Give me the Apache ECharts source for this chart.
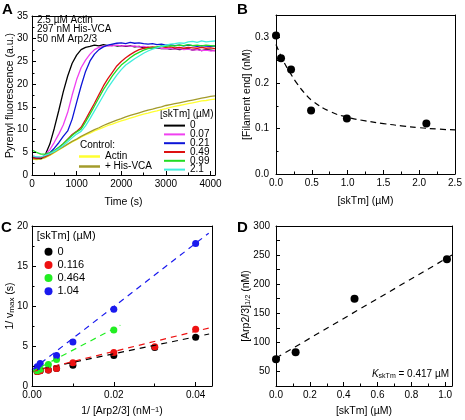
<!DOCTYPE html>
<html><head><meta charset="utf-8">
<script src="https://cdn.jsdelivr.net/npm/echarts@6/dist/echarts.min.js"></script>
<style>html,body{margin:0;padding:0;background:#fff}#c{width:465px;height:420px}</style>
</head><body><div id="c"></div>
<script>
// ---------- Panel A: time courses ----------
const timeA = [0,100,200,300,400,500,600,700,800,900,1000,1100,1200,1300,1400,1500,1600,1700,1800,1900,2000,2100,2200,2300,2400,2500,2600,2700,2800,2900,3000,3100,3200,3300,3400,3500,3600,3700,3800,3900,4000,4100];
const fl_0 = [4.0,3.7,3.6,4.5,6.8,10.3,14.2,18.3,21.8,24.6,26.4,27.6,28.1,28.3,28.6,28.4,28.7,28.5,28.6,28.4,28.5,28.3,28.4,28.2,28.3,28.0,28.1,27.9,28.0,27.8,27.9,27.7,27.8,27.6,27.7,27.8,27.5,27.7,27.4,27.6,27.5,27.4];
const fl_007 = [4.2,4.0,3.9,4.4,5.6,7.2,9.0,11.0,13.8,17.6,21.0,23.6,25.3,26.6,27.6,28.1,28.3,28.5,28.4,28.6,28.4,28.5,28.3,28.4,28.2,28.3,28.1,28.0,28.1,27.9,27.8,27.9,27.7,27.8,27.6,27.7,27.5,27.6,27.4,27.5,27.3,27.4];
const fl_021 = [4.0,3.8,3.8,4.2,4.9,5.9,7.1,8.5,9.7,12.3,16.0,19.6,22.8,25.1,26.6,27.6,28.2,28.6,28.8,29.0,29.1,28.9,29.2,29.0,29.1,28.9,28.8,28.9,28.7,28.8,28.6,28.7,28.5,28.6,28.4,28.6,28.5,28.3,28.5,28.4,28.3,28.4];
const fl_049 = [3.8,3.7,3.8,4.1,4.6,5.3,6.0,6.9,7.9,8.9,9.6,10.5,12.2,14.0,15.8,17.7,19.6,21.2,22.6,24.0,25.0,25.8,26.5,27.1,27.6,27.9,28.1,28.2,28.1,28.3,28.1,28.2,28.0,28.1,27.9,28.1,28.0,27.9,28.1,27.9,28.0,27.8];
const fl_099 = [5.5,5.0,4.6,4.6,4.9,5.4,6.1,6.9,7.8,8.7,9.5,10.1,11.7,13.4,15.2,17.0,18.8,20.3,21.8,23.1,24.2,25.0,25.8,26.5,27.0,27.5,27.8,28.0,28.2,28.4,28.3,28.5,28.4,28.6,28.5,28.7,28.5,28.6,28.4,28.6,28.5,28.4];
const fl_21 = [4.2,4.0,4.0,4.3,4.7,5.2,5.8,6.5,7.3,8.2,9.0,9.6,10.8,12.4,14.1,15.8,17.5,19.2,20.6,22.0,23.2,24.2,24.9,25.6,26.2,26.8,27.3,27.7,28.0,28.3,28.6,28.8,28.9,29.1,29.0,29.3,29.4,29.2,29.5,29.3,29.4,29.5];
const fl_actin = [3.5,3.4,3.5,3.8,4.3,4.9,5.5,6.1,6.7,7.3,7.8,8.3,8.8,9.2,9.7,10.1,10.5,10.9,11.2,11.6,11.9,12.2,12.5,12.8,13.1,13.4,13.6,13.9,14.1,14.4,14.6,14.9,15.1,15.3,15.5,15.7,15.9,16.1,16.3,16.4,16.6,16.7];
const fl_vca = [3.6,3.5,3.6,3.9,4.4,5.0,5.6,6.2,6.8,7.4,7.9,8.5,9.0,9.5,10.0,10.4,10.9,11.3,11.7,12.1,12.4,12.8,13.1,13.4,13.7,14.0,14.3,14.5,14.8,15.0,15.3,15.5,15.7,15.9,16.1,16.3,16.5,16.7,16.9,17.1,17.3,17.4];
const legendA = ['0','0.07','0.21','0.49','0.99','2.1'];
const controlA = ['Actin','+ His-VCA'];

// ---------- Panel B ----------
const skTmB = [0,0.07,0.21,0.49,0.99,2.1];
const endsB = [0.305,0.255,0.23,0.14,0.122,0.111];
const fitBx = [0,0.1,0.2,0.3,0.4,0.5,0.75,1.0,1.25,1.5,1.75,2.0,2.25,2.5];
const fitBy = [0.285,0.25,0.222,0.198,0.178,0.162,0.138,0.125,0.117,0.111,0.106,0.102,0.099,0.097];

// ---------- Panel C ----------
const legendC = ['0','0.116','0.464','1.04'];
const invArp_0 = [0.00125,0.002,0.004,0.006,0.01,0.02,0.03,0.04];
const invV_0 = [1.8,1.9,2.0,2.2,2.6,3.8,4.8,6.1];
const invArp_0116 = [0.00125,0.002,0.004,0.006,0.01,0.02,0.03,0.04];
const invV_0116 = [1.8,1.9,2.0,2.2,2.9,4.2,4.9,7.1];
const invArp_0464 = [0.00125,0.002,0.004,0.006,0.02];
const invV_0464 = [1.9,2.1,2.7,3.3,7.0];
const invArp_104 = [0.00125,0.002,0.006,0.01,0.02,0.04];
const invV_104 = [2.4,2.8,3.8,5.5,9.6,17.8];
const fitC_0 = [[0,1.9],[0.0433,6.5]];
const fitC_0116 = [[0,1.8],[0.0433,7.25]];
const fitC_0464 = [[0,1.8],[0.0216,7.6]];
const fitC_104 = [[0,2.0],[0.0432,19.1]];

// ---------- Panel D ----------
const skTmD = [0,0.116,0.464,1.01];
const halfD = [71,83,175,243];
const fitD = [[0,73],[1.04,250]];

const FONT = 'Liberation Sans, Arial, Helvetica, sans-serif';
const cA = ['#000000','#f040f0','#0c14d8','#dd1111','#22dd22','#40eedd'];
const cCtrl = ['#ffff30','#a39b2b'];
const cC = ['#000000','#ee1111','#22ee22','#1a1aee'];

function zip(xs, ys){ return xs.map((x,i)=>[x, ys[i]]); }

function ax(extra){
  const base = {
    axisLine:{show:true,onZero:false,lineStyle:{color:'#000',width:1}},
    axisTick:{show:true,inside:true,length:4,lineStyle:{color:'#000',width:1}},
    minorTick:{show:true,splitNumber:2,length:2.5,lineStyle:{color:'#000',width:1}},
    splitLine:{show:false}, minorSplitLine:{show:false},
    axisLabel:{color:'#000',fontSize:10,fontFamily:FONT,margin:4,formatter:v=>String(v)},
    nameLocation:'middle', nameMoveOverlap:false, z:5,
    nameTextStyle:{color:'#000',fontSize:10.5,fontFamily:FONT}
  };
  const o = Object.assign({}, base, extra);
  if (extra.axisLabel) o.axisLabel = Object.assign({}, base.axisLabel, extra.axisLabel);
  if (extra.nameTextStyle) o.nameTextStyle = Object.assign({}, base.nameTextStyle, extra.nameTextStyle);
  if (extra.minorTick) o.minorTick = Object.assign({}, base.minorTick, extra.minorTick);
  if (extra.axisTick) o.axisTick = Object.assign({}, base.axisTick, extra.axisTick);
  return o;
}
// frame axes (top / right edges of each box)
function frame(gridIndex, position){
  return {gridIndex:gridIndex,type:'value',position:position,min:0,max:1,
    axisLine:{show:true,onZero:false,lineStyle:{color:'#000',width:1}},
    axisTick:{show:false},axisLabel:{show:false},splitLine:{show:false},silent:true};
}

const gridStyle = {show:false,outerBoundsMode:'none',containLabel:false};

const series = [];
// Panel A
const aData = [['Actin',fl_actin,cCtrl[0]],['+ His-VCA',fl_vca,cCtrl[1]],
  ['0',fl_0,cA[0]],['0.07',fl_007,cA[1]],['0.21',fl_021,cA[2]],['0.49',fl_049,cA[3]],['0.99',fl_099,cA[4]],['2.1',fl_21,cA[5]]];
aData.forEach(([n,arr,col])=>{
  series.push({type:'line',name:'A:'+n,xAxisIndex:0,yAxisIndex:0,data:zip(timeA,arr),symbol:'none',
    lineStyle:{color:col,width:1.3},itemStyle:{color:col},silent:true,animation:false});
});
// Panel B
series.push({type:'line',name:'B:fit',xAxisIndex:1,yAxisIndex:1,data:zip(fitBx,fitBy),symbol:'none',smooth:true,
  lineStyle:{color:'#000',width:1.2,type:[6,4]},animation:false});
series.push({type:'scatter',name:'B:data',xAxisIndex:1,yAxisIndex:1,data:zip(skTmB,endsB),symbol:'circle',symbolSize:8,
  itemStyle:{color:'#000',opacity:1},animation:false});
// Panel C
const cFits=[fitC_0,fitC_0116,fitC_0464,fitC_104];
const cX=[invArp_0,invArp_0116,invArp_0464,invArp_104];
const cY=[invV_0,invV_0116,invV_0464,invV_104];
legendC.forEach((n,i)=>{
  series.push({type:'line',name:'Cfit:'+n,xAxisIndex:2,yAxisIndex:2,data:cFits[i],symbol:'none',
    lineStyle:{color:cC[i],width:1.2,type:[6,5]},animation:false});
});
legendC.forEach((n,i)=>{
  series.push({type:'scatter',name:'C:'+n,xAxisIndex:2,yAxisIndex:2,data:zip(cX[i],cY[i]),symbol:'circle',symbolSize:7,
    itemStyle:{color:cC[i],opacity:1},animation:false});
});
// Panel D
series.push({type:'line',name:'D:fit',xAxisIndex:3,yAxisIndex:3,data:fitD,symbol:'none',
  lineStyle:{color:'#000',width:1.2,type:[6,5]},animation:false});
series.push({type:'scatter',name:'D:data',xAxisIndex:3,yAxisIndex:3,data:zip(skTmD,halfD),symbol:'circle',symbolSize:8,
  itemStyle:{color:'#000',opacity:1},animation:false});

const strip = n => n.slice(n.indexOf(':')+1);

const option = {
  animation:false,
  textStyle:{fontFamily:FONT,color:'#000'},
  grid:[
    Object.assign({left:32,top:16,width:183,height:159},gridStyle),
    Object.assign({left:276,top:15,width:179,height:159},gridStyle),
    Object.assign({left:32,top:226,width:180,height:160},gridStyle),
    Object.assign({left:276,top:226,width:176,height:160},gridStyle)
  ],
  xAxis:[
    ax({gridIndex:0,type:'value',position:'bottom',min:0,max:4100,interval:1000,name:'Time (s)',nameGap:22,axisLabel:{showMaxLabel:false}}),
    ax({gridIndex:1,type:'value',position:'bottom',min:0,max:2.5,interval:0.5,name:'[skTm] (\u00b5M)',nameGap:22,axisLabel:{formatter:v=>v.toFixed(1)}}),
    ax({gridIndex:2,type:'value',position:'bottom',min:0,max:0.044,interval:0.02,name:'1/ [Arp2/3] (nM{sup|\u22121})',nameGap:20,
      axisLabel:{formatter:v=>v.toFixed(2),showMaxLabel:false},
      nameTextStyle:{rich:{sup:{fontSize:7.5,verticalAlign:'top',fontFamily:FONT,color:'#000'}}}}),
    ax({gridIndex:3,type:'value',position:'bottom',min:0,max:1.04,interval:0.2,name:'[skTm] (\u00b5M)',nameGap:20,
      axisLabel:{formatter:v=>v.toFixed(1),showMaxLabel:false}}),
    frame(0,'top'),frame(1,'top'),frame(2,'top'),frame(3,'top')
  ],
  yAxis:[
    ax({gridIndex:0,type:'value',position:'left',min:0,max:35,interval:5,name:'Pyrenyl fluorescence (a.u.)',nameGap:16}),
    ax({gridIndex:1,type:'value',position:'left',min:0,max:0.35,interval:0.1,name:'[Filament end] (nM)',nameGap:23,
      axisLabel:{formatter:v=>v.toFixed(1),showMaxLabel:false,margin:7}}),
    ax({gridIndex:2,type:'value',position:'left',min:0,max:20,interval:5,name:'1/ v{sub|max} (s)',nameGap:16,
      nameTextStyle:{rich:{sub:{fontSize:8,verticalAlign:'bottom',fontFamily:FONT,color:'#000'}}}}),
    ax({gridIndex:3,type:'value',position:'left',min:25,max:300,interval:25,name:'[Arp2/3]{sub|1/2} (nM)',nameGap:24,
      minorTick:{show:false},
      axisLabel:{formatter:v=>(v%50===0?String(v):''),margin:6},
      nameTextStyle:{rich:{sub:{fontSize:7.5,verticalAlign:'bottom',fontFamily:FONT,color:'#000'}}}}),
    frame(0,'right'),frame(1,'right'),frame(2,'right'),frame(3,'right')
  ],
  legend:[
    {data:legendA.map(n=>'A:'+n),orient:'vertical',left:164,top:120.6,itemWidth:21,itemHeight:2,itemGap:-1.2,
     icon:'rect',formatter:strip,textStyle:{fontSize:10,lineHeight:9.8,fontFamily:FONT,color:'#000'},
     selectedMode:false,padding:0},
    {data:controlA.map(n=>'A:'+n),orient:'vertical',left:79,top:151.5,itemWidth:21,itemHeight:2.5,itemGap:0,
     icon:'rect',formatter:strip,textStyle:{fontSize:10,lineHeight:10,fontFamily:FONT,color:'#000'},
     selectedMode:false,padding:0},
    {data:legendC.map(n=>'C:'+n),orient:'vertical',left:44.5,top:246.2,itemWidth:8,itemHeight:8,itemGap:2.2,
     icon:'circle',formatter:strip,textStyle:{fontSize:11,lineHeight:11,fontFamily:FONT,color:'#000'},
     selectedMode:false,padding:0}
  ],
  graphic:[
    {type:'text',left:2,top:2,style:{text:'A',font:'bold 15px '+FONT,fill:'#000'}},
    {type:'text',left:237,top:2,style:{text:'B',font:'bold 15px '+FONT,fill:'#000'}},
    {type:'text',left:1,top:220,style:{text:'C',font:'bold 15px '+FONT,fill:'#000'}},
    {type:'text',left:237,top:220,style:{text:'D',font:'bold 15px '+FONT,fill:'#000'}},
    {type:'text',x:37,y:20,style:{text:'2.5 \u00b5M Actin',font:'10px '+FONT,fill:'#000',verticalAlign:'middle'}},
    {type:'text',x:37,y:29.7,style:{text:'297 nM His-VCA',font:'10px '+FONT,fill:'#000',verticalAlign:'middle'}},
    {type:'text',x:37,y:39.3,style:{text:'50 nM Arp2/3',font:'10px '+FONT,fill:'#000',verticalAlign:'middle'}},
    {type:'text',x:160,y:114,style:{text:'[skTm] (\u00b5M)',font:'10px '+FONT,fill:'#000',verticalAlign:'middle'}},
    {type:'text',x:80,y:145.7,style:{text:'Control:',font:'10px '+FONT,fill:'#000',verticalAlign:'middle'}},
    {type:'text',x:36.7,y:236,style:{text:'[skTm] (\u00b5M)',font:'11px '+FONT,fill:'#000',verticalAlign:'middle'}},
    {type:'text',x:449,y:374.3,style:{
      text:'{k|K}{s|skTm} = 0.417 \u00b5M',align:'right',verticalAlign:'middle',
      font:'10px '+FONT,fill:'#000',
      rich:{k:{fontStyle:'italic',fontSize:10,fontFamily:FONT,fill:'#000'},
            s:{fontSize:7,fontFamily:FONT,verticalAlign:'bottom',fill:'#000'}}}}
  ],
  series:series
};
const chart = echarts.init(document.getElementById('c'),null,{renderer:'canvas'});
chart.setOption(option);
</script></body></html>
